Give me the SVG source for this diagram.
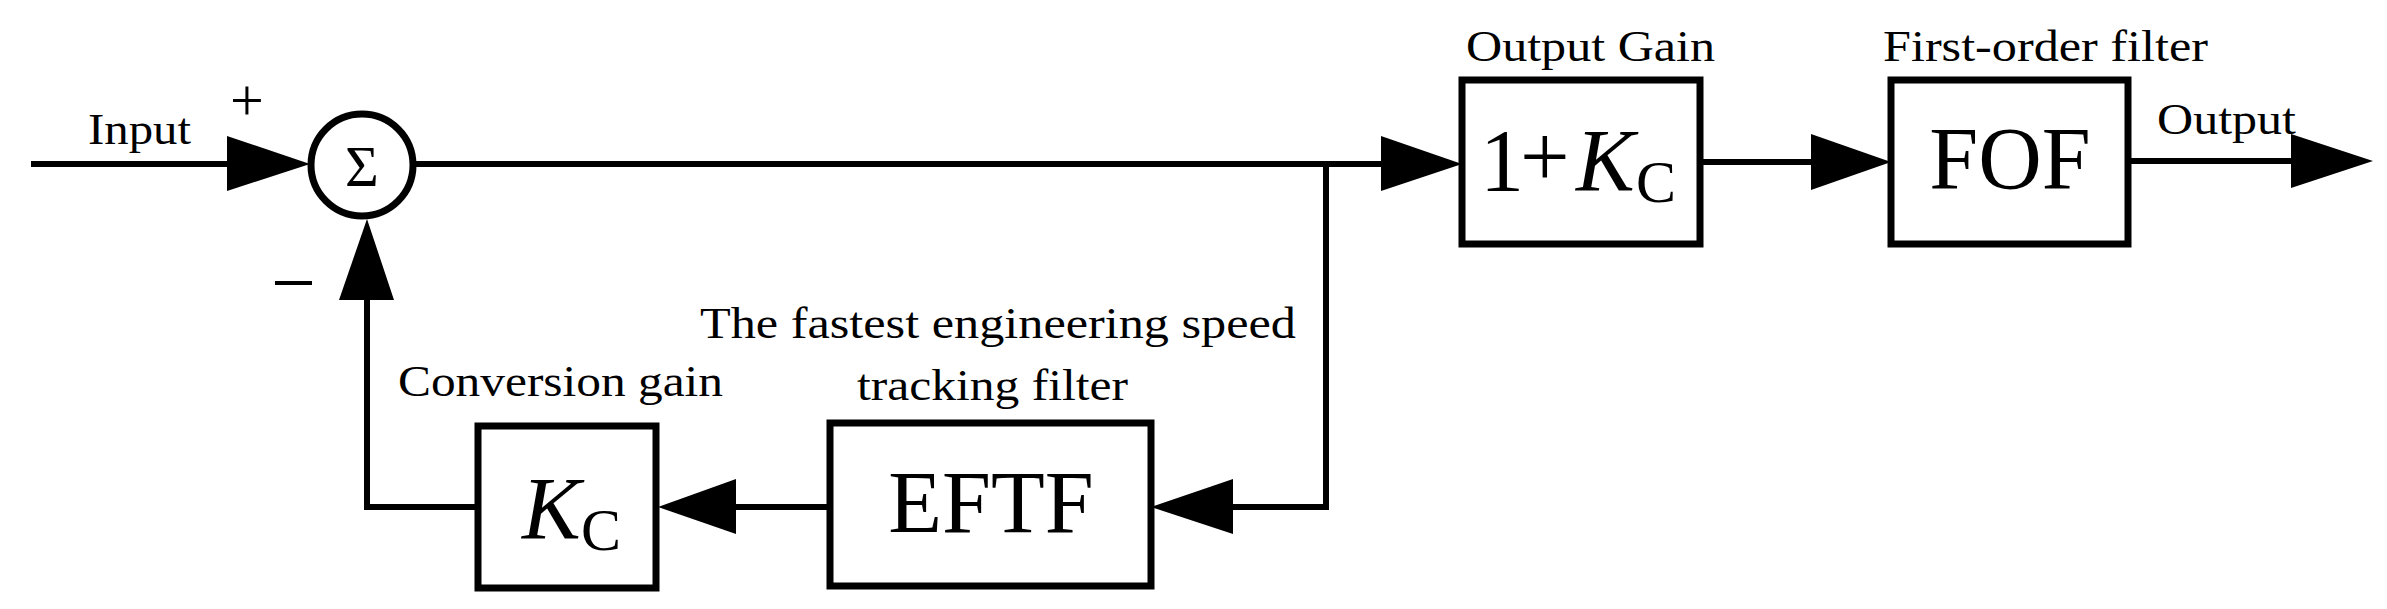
<svg xmlns="http://www.w3.org/2000/svg" width="2387" height="609" viewBox="0 0 2387 609">
<style>
.box{fill:#fff;stroke:#000;stroke-width:7}
.ln{fill:none;stroke:#000;stroke-width:6}
.ah{fill:#000}
.lbl{font-family:"Liberation Serif",serif;font-size:44px;fill:#000}
.big{font-family:"Liberation Serif",serif;font-size:88px;fill:#000}
</style>
<rect width="2387" height="609" fill="#fff"/>
<g id="connectors">
<line class="ln" x1="31" y1="164" x2="230" y2="164"/>
<polygon class="ah" points="227,136 310,164 227,191"/>
<line class="ln" x1="414" y1="164" x2="1385" y2="164"/>
<polygon class="ah" points="1381,136 1462,164 1381,191"/>
<line class="ln" x1="1326" y1="164" x2="1326" y2="507"/>
<line class="ln" x1="1329" y1="507" x2="1230" y2="507"/>
<polygon class="ah" points="1233,479 1151,507 1233,534"/>
<line class="ln" x1="830" y1="507" x2="733" y2="507"/>
<polygon class="ah" points="736,479 658,507 736,534"/>
<line class="ln" x1="478" y1="507" x2="367" y2="507"/>
<line class="ln" x1="367" y1="510" x2="367" y2="297"/>
<polygon class="ah" points="339,300 367,219 394,300"/>
<line class="ln" x1="1700" y1="162" x2="1815" y2="162"/>
<polygon class="ah" points="1811,134 1891,162 1811,190"/>
<line class="ln" x1="2128" y1="161" x2="2295" y2="161"/>
<polygon class="ah" points="2291,134 2373,161 2291,188"/>
</g>
<g id="sum">
<circle cx="362" cy="165" r="51" fill="#fff" stroke="#000" stroke-width="7"/>
<text x="362" y="186" text-anchor="middle" font-family="Liberation Serif,serif" font-size="58">Σ</text>
</g>
<g id="signs">
<text class="lbl" x="88" y="144" textLength="103" lengthAdjust="spacingAndGlyphs">Input</text>
<text x="247" y="120" text-anchor="middle" font-family="Liberation Serif,serif" font-size="60">+</text>
<line x1="275" y1="283" x2="312" y2="283" stroke="#000" stroke-width="4"/>
</g>
<g id="kc">
<rect class="box" x="478" y="426" width="178" height="162"/>
<text class="big" x="522" y="538" font-style="italic">K</text>
<text x="581" y="550" font-family="Liberation Serif,serif" font-size="60">C</text>
<text class="lbl" x="398" y="396" textLength="325" lengthAdjust="spacingAndGlyphs">Conversion gain</text>
</g>
<g id="eftf">
<rect class="box" x="830" y="423" width="321" height="163"/>
<text class="big" x="991" y="532" text-anchor="middle">EFTF</text>
<text class="lbl" x="700" y="338" textLength="596" lengthAdjust="spacingAndGlyphs">The fastest engineering speed</text>
<text class="lbl" x="857" y="400" textLength="271" lengthAdjust="spacingAndGlyphs">tracking filter</text>
</g>
<g id="gain">
<rect class="box" x="1462" y="80" width="238" height="164"/>
<text class="big" x="1480" y="190">1</text>
<text class="big" x="1520" y="186" font-size="80">+</text>
<text class="big" x="1576" y="190" font-style="italic">K</text>
<text x="1636" y="202" font-family="Liberation Serif,serif" font-size="60">C</text>
<text class="lbl" x="1466" y="61" textLength="249" lengthAdjust="spacingAndGlyphs">Output Gain</text>
</g>
<g id="fof">
<rect class="box" x="1891" y="80" width="237" height="164"/>
<text class="big" x="2010" y="188" text-anchor="middle">FOF</text>
<text class="lbl" x="1883" y="61" textLength="325" lengthAdjust="spacingAndGlyphs">First-order filter</text>
<text class="lbl" x="2157" y="134" textLength="139" lengthAdjust="spacingAndGlyphs">Output</text>
</g>
</svg>
